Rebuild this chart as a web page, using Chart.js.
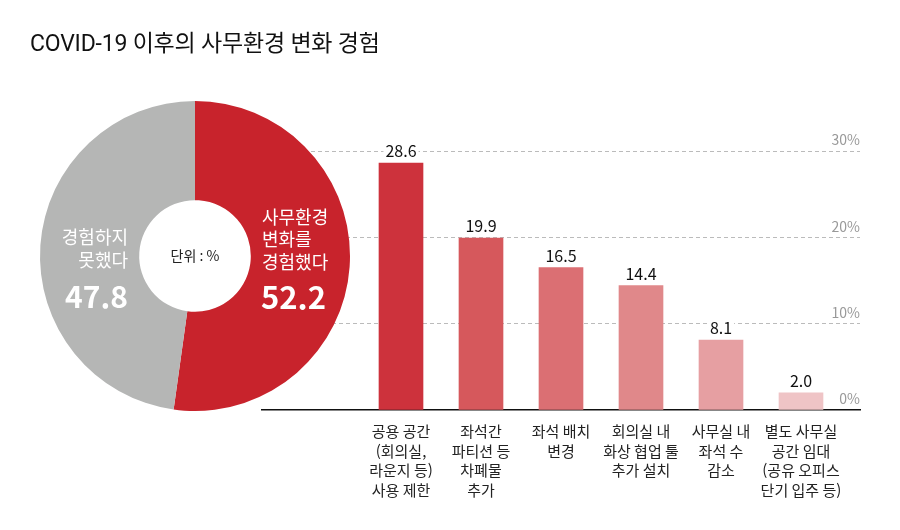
<!DOCTYPE html>
<html lang="ko">
<head>
<meta charset="utf-8">
<script src="https://cdn.jsdelivr.net/npm/chart.js@4.4.1/dist/chart.umd.min.js"></script>
<style>
  html, body { margin: 0; padding: 0; background: #fff; }
  #wrap { position: relative; width: 900px; height: 530px; overflow: hidden; }
  #title { position: absolute; left: 30px; top: 24px; margin: 0; font: 400 23px Roboto, "Noto Sans CJK KR", sans-serif; color: #111; letter-spacing: -0.2px; }
  #barChart { position: absolute; left: 0; top: 0; }
  #pieChart { position: absolute; left: 30px; top: 91px; }
</style>
</head>
<body>
<div id="wrap">
  <canvas id="barChart" width="900" height="530"></canvas>
  <canvas id="pieChart" width="330" height="330"></canvas>
  <h1 id="title">COVID-19 이후의 사무환경 변화 경험</h1>
</div>
<script>
const FONT = '"Noto Sans CJK KR", "Noto Sans", sans-serif';

// 도넛 데이터
const pieLabels = ['사무환경 변화를 경험했다', '경험하지 못했다'];
const pieValues = [52.2, 47.8];
const pieColors = ['#c8232c', '#b5b6b5'];

// 막대 데이터
const categories = [
  ['공용 공간', '(회의실,', '라운지 등)', '사용 제한'],
  ['좌석간', '파티션 등', '차폐물', '추가'],
  ['좌석 배치', '변경'],
  ['회의실 내', '화상 협업 툴', '추가 설치'],
  ['사무실 내', '좌석 수', '감소'],
  ['별도 사무실', '공간 임대', '(공유 오피스', '단기 입주 등)']
];
const barValues = [28.6, 19.9, 16.5, 14.4, 8.1, 2.0];
const barColors = ['#cd323c', '#d6585c', '#db6f73', '#e0888a', '#e69fa2', '#efc4c6'];
const yTicks = [0, 10, 20, 30];

// 막대 위 값 표시 (흰 배경)
const valueLabels = {
  id: 'valueLabels',
  afterDatasetsDraw(chart) {
    const ctx = chart.ctx;
    const meta = chart.getDatasetMeta(0);
    ctx.save();
    ctx.font = '16px ' + FONT;
    ctx.textAlign = 'center';
    ctx.textBaseline = 'middle';
    meta.data.forEach((bar, i) => {
      const txt = barValues[i].toFixed(1);
      const w = ctx.measureText(txt).width;
      const y = bar.y - 12;
      ctx.fillStyle = '#fff';
      ctx.fillRect(bar.x - w / 2 - 2, y - 9, w + 4, 18);
      ctx.fillStyle = '#111';
      ctx.fillText(txt, bar.x, y);
    });
    ctx.restore();
  }
};

new Chart(document.getElementById('barChart'), {
  type: 'bar',
  data: {
    datasets: [{
      data: barValues.map((v, i) => ({ x: i, y: v })),
      backgroundColor: barColors,
      borderWidth: 0,
      barThickness: 44
    }]
  },
  options: {
    responsive: false,
    animation: false,
    layout: { padding: { left: 262, right: 40, top: 151, bottom: 0 } },
    plugins: { legend: { display: false }, tooltip: { enabled: false } },
    scales: {
      x: {
        type: 'linear',
        offset: false,
        min: -1.7375,
        max: 5.7375,
        afterBuildTicks: (scale) => { scale.ticks = categories.map((c, i) => ({ value: i })); },
        afterFit: (scale) => { scale.height = 120; },
        grid: { display: false, drawTicks: false },
        border: { color: '#111', width: 1.5 },
        ticks: {
          autoSkip: false,
          maxRotation: 0,
          padding: 12,
          color: '#222',
          font: { family: FONT, size: 15, lineHeight: 1.3 },
          callback: (v) => categories[v]
        }
      },
      y: {
        position: 'right',
        min: 0,
        max: 30,
        afterBuildTicks: (scale) => { scale.ticks = yTicks.map(v => ({ value: v })); },
        afterFit: (scale) => { scale.width = 0; },
        grid: {
          drawTicks: false,
          color: (c) => c.tick && c.tick.value === 0 ? 'rgba(0,0,0,0)' : '#bbbbbb',
          lineWidth: 1
        },
        border: { display: false, dash: [4, 3] },
        ticks: {
          mirror: true,
          padding: 0,
          labelOffset: -11,
          color: '#999',
          font: { family: FONT, size: 14 },
          callback: (v) => v + '%'
        }
      }
    }
  },
  plugins: [valueLabels]
});

// 도넛 안 텍스트
const pieText = {
  id: 'pieText',
  afterDraw(chart) {
    const ctx = chart.ctx;
    const arc = chart.getDatasetMeta(0).data[0];
    const cx = arc.x, cy = arc.y;
    ctx.save();
    ctx.textBaseline = 'middle';
    ctx.fillStyle = '#222';
    ctx.textAlign = 'center';
    ctx.font = '14px ' + FONT;
    ctx.fillText('단위 : %', cx, cy);

    ctx.fillStyle = '#fff';
    ctx.textAlign = 'left';
    ctx.font = '18px ' + FONT;
    ['사무환경', '변화를', '경험했다'].forEach((t, i) => ctx.fillText(t, cx + 67, cy - 39 + i * 22.5));
    ctx.font = 'bold 31px ' + FONT;
    ctx.fillText(pieValues[0].toFixed(1), cx + 66, cy + 41);

    ctx.textAlign = 'right';
    ctx.font = '18px ' + FONT;
    ['경험하지', '못했다'].forEach((t, i) => ctx.fillText(t, cx - 67, cy - 19 + i * 23));
    ctx.font = 'bold 30px ' + FONT;
    ctx.fillText(pieValues[1].toFixed(1), cx - 67, cy + 41);
    ctx.restore();
  }
};

new Chart(document.getElementById('pieChart'), {
  type: 'doughnut',
  data: {
    labels: pieLabels,
    datasets: [{
      data: pieValues,
      backgroundColor: pieColors,
      borderWidth: 0
    }]
  },
  options: {
    responsive: false,
    animation: false,
    cutout: '36%',
    layout: { padding: 10 },
    plugins: { legend: { display: false }, tooltip: { enabled: false } }
  },
  plugins: [pieText]
});
</script>
</body>
</html>
